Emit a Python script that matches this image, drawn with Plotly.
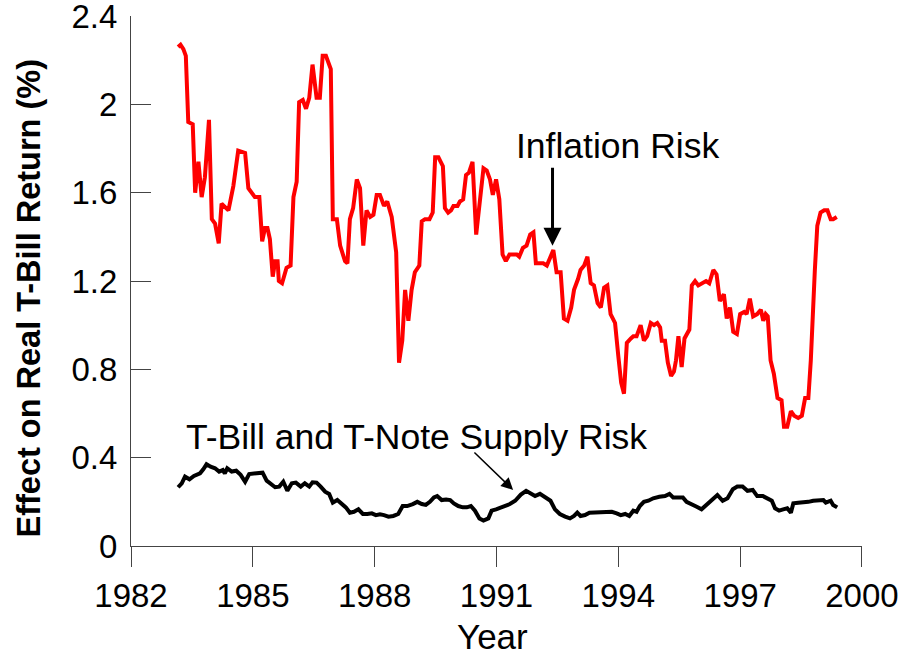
import plotly.graph_objects as go

# Inflation risk (red), decimal years and effect in %
infl_year = [
    1983.16, 1983.22, 1983.29, 1983.35, 1983.41, 1983.52, 1983.58, 1983.66, 1983.74, 1983.82,
    1983.92, 1983.99, 1984.07, 1984.16, 1984.23, 1984.40, 1984.52, 1984.64, 1984.81, 1984.89,
    1985.05, 1985.16, 1985.23, 1985.30, 1985.36, 1985.42, 1985.49, 1985.55, 1985.61, 1985.64,
    1985.72, 1985.83, 1985.93, 1986.00, 1986.08, 1986.14, 1986.23, 1986.31, 1986.39, 1986.47,
    1986.57, 1986.65, 1986.72, 1986.80, 1986.92, 1986.97, 1987.07, 1987.15, 1987.27, 1987.33,
    1987.39, 1987.47, 1987.56, 1987.64, 1987.72, 1987.80, 1987.89, 1987.97, 1988.05, 1988.13,
    1988.23, 1988.31, 1988.42, 1988.53, 1988.60, 1988.68, 1988.75, 1988.83, 1988.91, 1988.99,
    1989.10, 1989.16, 1989.24, 1989.35, 1989.43, 1989.49, 1989.57, 1989.68, 1989.73, 1989.81,
    1989.88, 1989.94, 1990.04, 1990.10, 1990.18, 1990.25, 1990.32, 1990.41, 1990.50, 1990.59,
    1990.68, 1990.76, 1990.84, 1990.91, 1990.99, 1991.07, 1991.15, 1991.23, 1991.32, 1991.41,
    1991.50, 1991.56, 1991.65, 1991.74, 1991.83, 1991.91, 1991.97, 1992.07, 1992.15, 1992.24,
    1992.32, 1992.40, 1992.48, 1992.58, 1992.66, 1992.75, 1992.84, 1992.91, 1993.01, 1993.07,
    1993.16, 1993.24, 1993.32, 1993.40, 1993.49, 1993.57, 1993.65, 1993.73, 1993.81, 1993.92,
    1994.00, 1994.07, 1994.14, 1994.21, 1994.31, 1994.37, 1994.45, 1994.55, 1994.63, 1994.71,
    1994.80, 1994.88, 1994.96, 1995.03, 1995.07, 1995.15, 1995.22, 1995.30, 1995.37, 1995.42,
    1995.48, 1995.56, 1995.63, 1995.75, 1995.81, 1995.89, 1995.97, 1996.08, 1996.16, 1996.24,
    1996.34, 1996.42, 1996.50, 1996.60, 1996.67, 1996.75, 1996.83, 1996.92, 1997.00, 1997.10,
    1997.16, 1997.24, 1997.32, 1997.42, 1997.51, 1997.57, 1997.63, 1997.68, 1997.75, 1997.83,
    1997.92, 1998.02, 1998.08, 1998.16, 1998.25, 1998.33, 1998.43, 1998.52, 1998.60, 1998.68,
    1998.74, 1998.84, 1998.90, 1998.98, 1999.07, 1999.15, 1999.23, 1999.29, 1999.38,
]
infl_val = [
    2.26, 2.27, 2.25, 2.22, 1.92, 1.91, 1.60, 1.74, 1.58, 1.67,
    1.93, 1.48, 1.46, 1.37, 1.55, 1.52, 1.63, 1.79, 1.78, 1.62,
    1.58, 1.58, 1.38, 1.44, 1.44, 1.39, 1.22, 1.29, 1.29, 1.20,
    1.19, 1.26, 1.27, 1.58, 1.65, 2.01, 2.02, 1.98, 2.03, 2.18,
    2.03, 2.03, 2.22, 2.22, 2.16, 1.48, 1.48, 1.36, 1.29, 1.28,
    1.48, 1.53, 1.66, 1.62, 1.36, 1.52, 1.49, 1.50, 1.59, 1.59,
    1.54, 1.56, 1.49, 1.33, 0.83, 0.93, 1.16, 1.02, 1.16, 1.24,
    1.27, 1.47, 1.48, 1.48, 1.51, 1.76, 1.76, 1.72, 1.53, 1.51,
    1.52, 1.54, 1.54, 1.56, 1.57, 1.68, 1.69, 1.74, 1.41, 1.57,
    1.71, 1.70, 1.66, 1.59, 1.66, 1.57, 1.32, 1.29, 1.32, 1.32,
    1.32, 1.31, 1.35, 1.36, 1.41, 1.42, 1.28, 1.28, 1.28, 1.27,
    1.30, 1.34, 1.24, 1.24, 1.03, 1.02, 1.08, 1.16, 1.21, 1.25,
    1.27, 1.31, 1.19, 1.18, 1.10, 1.08, 1.17, 1.18, 1.05, 1.01,
    0.86, 0.74, 0.69, 0.92, 0.94, 0.95, 0.95, 1.00, 0.93, 0.95,
    1.01, 1.00, 1.01, 0.99, 0.93, 0.93, 0.83, 0.77, 0.79, 0.84,
    0.95, 0.81, 0.94, 0.98, 1.18, 1.20, 1.18, 1.19, 1.20, 1.19,
    1.25, 1.23, 1.11, 1.14, 1.03, 1.08, 0.97, 0.96, 1.05, 1.06,
    1.05, 1.12, 1.04, 1.05, 1.07, 1.02, 1.05, 1.04, 0.84, 0.78,
    0.67, 0.66, 0.54, 0.54, 0.61, 0.59, 0.58, 0.59, 0.67, 0.67,
    0.84, 1.25, 1.45, 1.51, 1.52, 1.52, 1.48, 1.48, 1.49,
]

# T-Bill and T-Note supply risk (black)
supply_year = [
    1983.16, 1983.25, 1983.33, 1983.44, 1983.55, 1983.70, 1983.78, 1983.86, 1983.96, 1984.07,
    1984.17, 1984.26, 1984.31, 1984.37, 1984.48, 1984.59, 1984.70, 1984.81, 1984.91, 1985.03,
    1985.13, 1985.24, 1985.34, 1985.44, 1985.55, 1985.65, 1985.75, 1985.85, 1985.96, 1986.06,
    1986.18, 1986.28, 1986.39, 1986.47, 1986.57, 1986.67, 1986.78, 1986.88, 1986.97, 1987.08,
    1987.19, 1987.29, 1987.39, 1987.49, 1987.60, 1987.71, 1987.82, 1987.93, 1988.03, 1988.13,
    1988.23, 1988.34, 1988.46, 1988.58, 1988.69, 1988.80, 1988.94, 1989.05, 1989.16, 1989.26,
    1989.36, 1989.46, 1989.54, 1989.65, 1989.76, 1989.86, 1989.95, 1990.06, 1990.17, 1990.27,
    1990.37, 1990.47, 1990.58, 1990.68, 1990.80, 1990.88, 1990.99, 1991.09, 1991.21, 1991.33,
    1991.46, 1991.60, 1991.73, 1991.84, 1991.95, 1992.07, 1992.19, 1992.33, 1992.44, 1992.56,
    1992.69, 1992.81, 1992.91, 1992.99, 1993.07, 1993.18, 1993.29, 1993.43, 1993.55, 1993.70,
    1993.84, 1993.96, 1994.06, 1994.17, 1994.27, 1994.37, 1994.45, 1994.53, 1994.63, 1994.74,
    1994.86, 1995.01, 1995.15, 1995.26, 1995.35, 1995.48, 1995.59, 1995.68, 1995.81, 1995.93,
    1996.05, 1996.18, 1996.32, 1996.44, 1996.57, 1996.69, 1996.82, 1996.93, 1997.06, 1997.18,
    1997.31, 1997.42, 1997.56, 1997.67, 1997.78, 1997.86, 1997.96, 1998.06, 1998.16, 1998.25,
    1998.31, 1998.43, 1998.56, 1998.68, 1998.80, 1998.92, 1999.05, 1999.11, 1999.23, 1999.29,
    1999.39,
]
supply_val = [
    0.266, 0.284, 0.314, 0.302, 0.317, 0.329, 0.347, 0.370, 0.359, 0.352,
    0.337, 0.344, 0.329, 0.352, 0.337, 0.341, 0.322, 0.291, 0.326, 0.329,
    0.329, 0.332, 0.296, 0.284, 0.266, 0.269, 0.291, 0.250, 0.284, 0.287,
    0.269, 0.284, 0.269, 0.288, 0.287, 0.269, 0.246, 0.236, 0.196, 0.208,
    0.193, 0.175, 0.151, 0.155, 0.166, 0.145, 0.145, 0.148, 0.140, 0.144,
    0.140, 0.133, 0.136, 0.145, 0.181, 0.181, 0.190, 0.200, 0.190, 0.186,
    0.200, 0.220, 0.226, 0.208, 0.211, 0.208, 0.193, 0.181, 0.175, 0.175,
    0.181, 0.160, 0.125, 0.115, 0.125, 0.160, 0.166, 0.173, 0.181, 0.190,
    0.205, 0.233, 0.250, 0.236, 0.226, 0.236, 0.220, 0.205, 0.166, 0.145,
    0.133, 0.125, 0.136, 0.151, 0.136, 0.140, 0.151, 0.151, 0.155, 0.155,
    0.155, 0.148, 0.140, 0.145, 0.136, 0.160, 0.155, 0.181, 0.200, 0.205,
    0.216, 0.223, 0.226, 0.236, 0.220, 0.220, 0.220, 0.200, 0.190, 0.178,
    0.166, 0.186, 0.208, 0.231, 0.205, 0.216, 0.257, 0.269, 0.269, 0.250,
    0.254, 0.226, 0.226, 0.216, 0.205, 0.171, 0.160, 0.166, 0.171, 0.151,
    0.193, 0.196, 0.196, 0.200, 0.205, 0.205, 0.208, 0.196, 0.205, 0.186,
    0.175,
]

x_ticks = [1982, 1985, 1988, 1991, 1994, 1997, 2000]
y_ticks = [0, 0.4, 0.8, 1.2, 1.6, 2.0, 2.4]
y_tick_labels = ["0", "0.4", "0.8", "1.2", "1.6", "2", "2.4"]

FONT = "Arial, Liberation Sans, sans-serif"
AXIS_COLOR = "#444444"

fig = go.Figure()
fig.add_trace(go.Scatter(x=infl_year, y=infl_val, mode="lines",
                         line=dict(color="#ff0000", width=4), showlegend=False))
fig.add_trace(go.Scatter(x=supply_year, y=supply_val, mode="lines",
                         line=dict(color="#000000", width=4), showlegend=False))

fig.update_layout(
    width=901, height=657,
    margin=dict(l=131, r=39, t=16, b=111),
    paper_bgcolor="white", plot_bgcolor="white",
    font=dict(family=FONT, color="black"),
    showlegend=False,
)
fig.update_xaxes(
    range=[1982, 2000.001], tickvals=x_ticks, ticks="outside", ticklen=20,
    tickwidth=1, tickcolor=AXIS_COLOR, showline=True, linecolor=AXIS_COLOR,
    linewidth=1, showgrid=False, zeroline=False, tickfont=dict(size=33),
    automargin=False, ticklabeloverflow="allow",
)
fig.update_yaxes(
    range=[0, 2.4001], tickvals=y_ticks, ticktext=y_tick_labels, ticks="inside",
    ticklen=20, tickwidth=1, tickcolor=AXIS_COLOR, showline=True,
    linecolor=AXIS_COLOR, linewidth=1, showgrid=False, zeroline=False,
    tickfont=dict(size=33), automargin=False, ticklabeloverflow="allow",
    ticklabelstandoff=6,
)

# axis titles
fig.add_annotation(text="Year", xref="paper", yref="paper", x=0.494, y=-0.17,
                   showarrow=False, font=dict(size=35), xanchor="center", yanchor="middle")
fig.add_annotation(text="<b>Effect on Real T-Bill Return (%)</b>", xref="paper", yref="paper",
                   x=-0.1395, y=0.467, textangle=-90, showarrow=False,
                   font=dict(size=32.5), xanchor="center", yanchor="middle")

# labels and arrows
fig.add_annotation(text="Inflation Risk", x=1993.98, y=1.81, showarrow=False,
                   font=dict(size=35.5), xanchor="center", yanchor="middle")
fig.add_annotation(text="", x=1992.38, y=1.36, ax=1992.38, ay=1.72, axref="x", ayref="y",
                   showarrow=True, arrowhead=2, arrowsize=1.2, arrowwidth=3, arrowcolor="black")
fig.add_annotation(text="T-Bill and T-Note Supply Risk", x=1989.04, y=0.495, showarrow=False,
                   font=dict(size=35.5), xanchor="center", yanchor="middle")
fig.add_annotation(text="", x=1991.41, y=0.254, ax=1990.42, ay=0.43, axref="x", ayref="y",
                   showarrow=True, arrowhead=2, arrowsize=1.6, arrowwidth=1.5, arrowcolor="black")

# page has a default 8px body margin; drop it so the figure sits at the window origin
fig.write_html("out.html", config={"displayModeBar": False},
               post_script="document.body.style.margin='0';")
